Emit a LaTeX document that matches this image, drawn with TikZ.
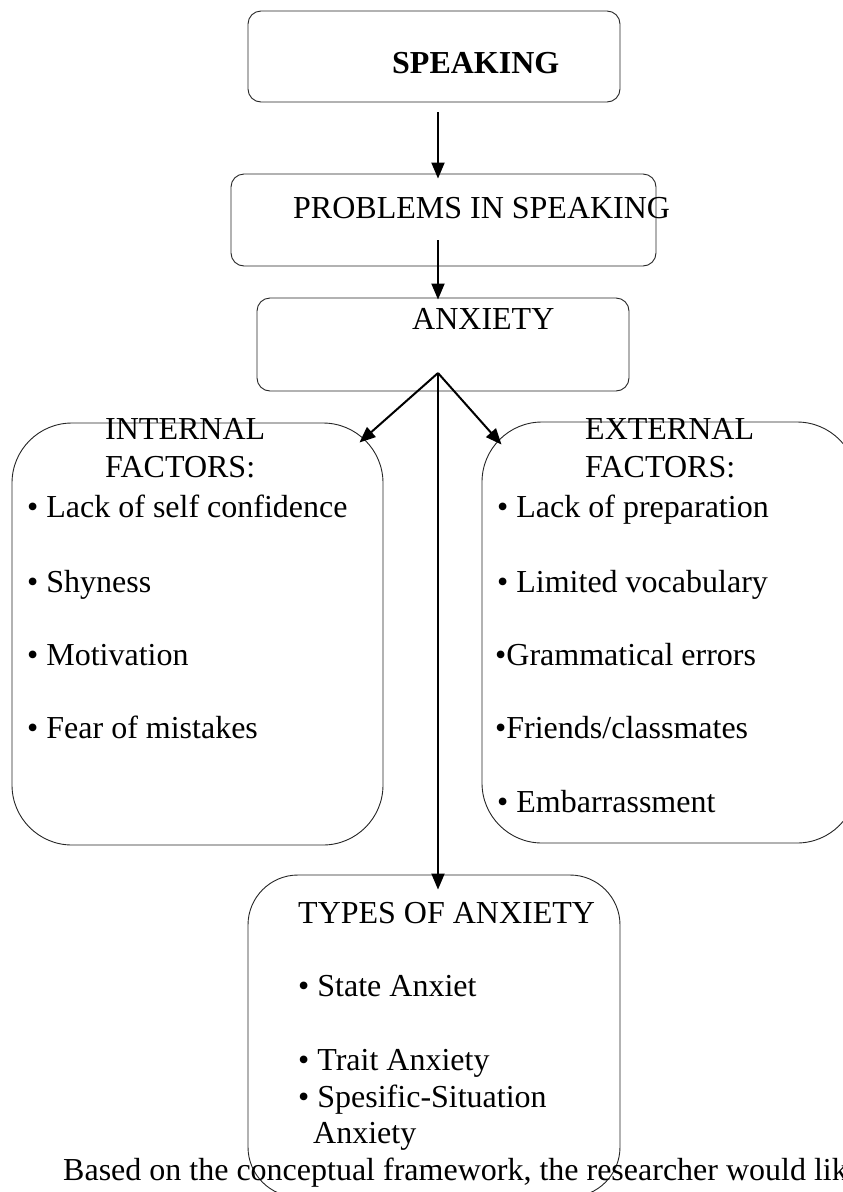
\documentclass[tikz,border=0pt]{standalone}
\usepackage{fontspec}
\setmainfont{Liberation Serif}
\usetikzlibrary{arrows.meta}
\tikzset{
  box/.style={draw=black!85, line width=0.9pt, rectangle, inner sep=0pt},
  smallbox/.style={box, rounded corners=13pt},
  bigbox/.style={box, rounded corners=60pt},
  typesbox/.style={box, rounded corners=50pt},
  txt/.style={anchor=base west, inner sep=0pt, font=\fontsize{32}{38}\selectfont},
  arr/.style={line width=2pt, -{Triangle[length=16pt,width=13pt]}}
}
\begin{document}
\begin{tikzpicture}[x=1pt,y=-1pt]
\useasboundingbox (0,0) rectangle (843,1192);
\clip (0,0) rectangle (843,1192);
\fill[white] (0,0) rectangle (843,1192);

% boxes
\node[smallbox, minimum width=372pt, minimum height=91pt] (speak) at (434,56.5) {};
\node[smallbox, minimum width=425pt, minimum height=92pt] (prob) at (443.5,220) {};
\node[smallbox, minimum width=372pt, minimum height=93pt] (anx) at (443,344.5) {};
\node[bigbox, minimum width=371pt, minimum height=422pt] (intf) at (197.5,634) {};
\node[bigbox, minimum width=375pt, minimum height=421pt] (extf) at (669.5,632.5) {};
\node[typesbox, minimum width=372pt, minimum height=322pt] (types) at (434,1036) {};

% texts
\node[txt] (tspeak) at (392,73) {\bfseries SPEAKING};
\node[txt] (tprob) at (293,218) {PROBLEMS IN SPEAKING};
\node[txt] (tanx) at (412,329) {ANXIETY};

\node[txt] (tint1) at (105,439) {INTERNAL};
\node[txt] (tint2) at (105,477) {FACTORS:};
\node[txt] (i1) at (27,517) {• Lack of self confidence};
\node[txt] (i2) at (27,592) {• Shyness};
\node[txt] (i3) at (27,665) {• Motivation};
\node[txt] (i4) at (27,738) {• Fear of mistakes};

\node[txt] (text1) at (585,439) {EXTERNAL};
\node[txt] (text2) at (585,477) {FACTORS:};
\node[txt] (e1) at (497,517) {• Lack of preparation};
\node[txt] (e2) at (497,592) {• Limited vocabulary};
\node[txt] (e3) at (495,665) {•Grammatical errors};
\node[txt] (e4) at (495,738) {•Friends/classmates};
\node[txt] (e5) at (497,812) {• Embarrassment};

\node[txt] (ttypes) at (298,923) {TYPES OF ANXIETY};
\node[txt] (t1) at (298,996) {• State Anxiet};
\node[txt] (t2) at (298,1070) {• Trait Anxiety};
\node[txt] (t3) at (298,1107) {• Spesific-Situation};
\node[txt] (t4) at (313,1143) {Anxiety};

\node[txt] (based) at (63,1180) {Based on the conceptual framework, the researcher would like};

% connectors
\coordinate (hub) at (438,373);
\draw[arr] ([xshift=4pt,yshift=-10pt]speak.south) -- ([xshift=-5.5pt,yshift=-5pt]prob.north);
\draw[arr] ([xshift=-5.5pt,yshift=26pt]prob.south) -- ([xshift=-5pt,yshift=-2pt]anx.north);
\draw[arr] (hub) -- ([xshift=-24pt,yshift=-20pt]intf.north east);
\draw[arr] (hub) -- ([xshift=20pt,yshift=-23pt]extf.north west);
\draw[arr] (hub) -- ([xshift=4pt,yshift=-15pt]types.north);
\end{tikzpicture}
\end{document}
